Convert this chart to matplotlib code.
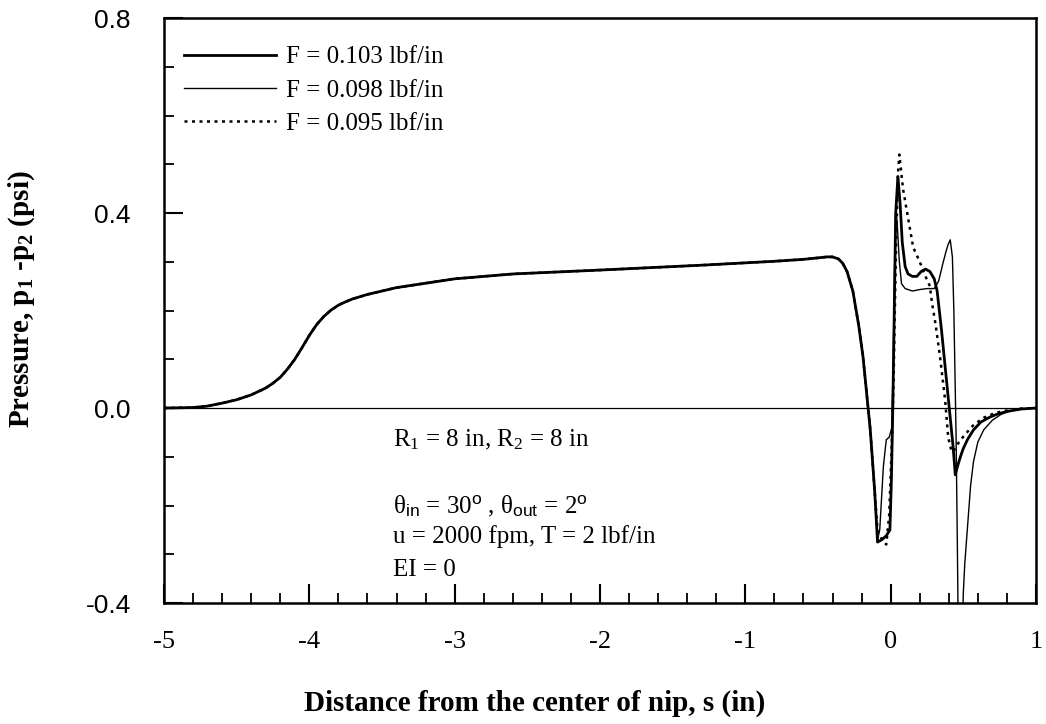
import numpy as np
import matplotlib
matplotlib.use("Agg")
import matplotlib.pyplot as plt
from matplotlib.ticker import MultipleLocator

plt.rcParams['font.family'] = 'Liberation Serif'
plt.rcParams['mathtext.fontset'] = 'custom'
plt.rcParams['mathtext.rm'] = 'Liberation Serif'
plt.rcParams['mathtext.it'] = 'Liberation Serif:italic'
plt.rcParams['mathtext.bf'] = 'Liberation Serif:bold'
plt.rcParams['mathtext.sf'] = 'Liberation Sans'

# shared part of the three curves (they overlap up to the nip)
s_common = [-5.0, -4.8, -4.7, -4.6, -4.5, -4.4, -4.3, -4.25, -4.2, -4.15, -4.1, -4.05,
            -4.0, -3.95, -3.9, -3.85, -3.8, -3.75, -3.7, -3.6, -3.5, -3.4, -3.2, -3.0,
            -2.6, -2.0, -1.3, -0.8, -0.6, -0.5, -0.44, -0.4, -0.36, -0.33, -0.3, -0.26,
            -0.22, -0.19, -0.155, -0.14, -0.11]
p_common = [0.0, 0.001, 0.004, 0.01, 0.017, 0.027, 0.041, 0.051, 0.063, 0.08, 0.1, 0.124,
            0.149, 0.171, 0.188, 0.201, 0.211, 0.218, 0.224, 0.233, 0.240, 0.247, 0.256, 0.265,
            0.275, 0.283, 0.293, 0.301, 0.305, 0.308, 0.310, 0.310, 0.306, 0.297, 0.28, 0.24,
            0.17, 0.105, 0.0, -0.045, -0.17]

# F = 0.103 lbf/in
s_103 = [-0.09, -0.06, -0.03, -0.005, 0.005, 0.015, 0.025, 0.035, 0.05, 0.065, 0.08, 0.1,
         0.12, 0.15, 0.18, 0.21, 0.24, 0.27, 0.3, 0.32, 0.35, 0.38, 0.41, 0.43, 0.445,
         0.46, 0.48, 0.5, 0.53, 0.57, 0.62, 0.68, 0.73, 0.8, 0.9, 1.0]
p_103 = [-0.275, -0.27, -0.262, -0.25, -0.15, 0.0, 0.2, 0.4, 0.475, 0.42, 0.34, 0.29,
         0.275, 0.27, 0.27, 0.28, 0.285, 0.28, 0.265, 0.24, 0.16, 0.07, -0.02, -0.08, -0.137,
         -0.12, -0.1, -0.083, -0.064, -0.045, -0.029, -0.019, -0.013, -0.007, -0.002, 0.0]

# F = 0.098 lbf/in
s_098 = [-0.09, -0.075, -0.05, -0.03, -0.01, 0.008, 0.018, 0.028, 0.035, 0.045, 0.06, 0.075,
         0.1, 0.15, 0.2, 0.25, 0.3, 0.33, 0.36, 0.38, 0.395, 0.41, 0.425, 0.435, 0.444,
         0.45, 0.458, 0.465, 0.48, 0.495, 0.5, 0.51, 0.53, 0.55, 0.57, 0.6, 0.64, 0.7,
         0.76, 0.82, 0.9, 1.0]
p_098 = [-0.27, -0.25, -0.12, -0.065, -0.06, -0.04, 0.1, 0.3, 0.41, 0.38, 0.3, 0.255,
         0.245, 0.24, 0.243, 0.245, 0.245, 0.26, 0.297, 0.32, 0.335, 0.345, 0.31, 0.2, 0.05,
         -0.05, -0.25, -0.45, -0.55, -0.45, -0.38, -0.32, -0.24, -0.16, -0.11, -0.07, -0.045, -0.025,
         -0.013, -0.006, -0.002, 0.0]

# F = 0.095 lbf/in
s_095 = [-0.09, -0.06, -0.03, -0.01, 0.005, 0.02, 0.035, 0.05, 0.06, 0.085, 0.114, 0.155,
         0.2, 0.24, 0.27, 0.285, 0.31, 0.34, 0.375, 0.396, 0.42, 0.44, 0.47, 0.51, 0.57,
         0.64, 0.72, 0.8, 0.9, 1.0]
p_095 = [-0.25, -0.27, -0.28, -0.22, -0.1, 0.05, 0.3, 0.48, 0.52, 0.45, 0.40, 0.33,
         0.30, 0.27, 0.25, 0.215, 0.17, 0.105, 0.016, -0.06, -0.09, -0.085, -0.07, -0.055, -0.035,
         -0.02, -0.01, -0.005, -0.001, 0.0]

labels = ['F = 0.103 lbf/in', 'F = 0.098 lbf/in', 'F = 0.095 lbf/in']

fig = plt.figure(figsize=(10.46, 7.24), dpi=100)
ax = fig.add_axes([0.1568, 0.1671, 0.8336, 0.808])

ax.axhline(0, color='black', lw=0.9)

ax.plot(s_common + s_103, p_common + p_103, color='black', lw=2.0, label=labels[0])
ax.plot(s_common + s_098, p_common + p_098, color='black', lw=1.0, label=labels[1])
ax.plot(s_common + s_095, p_common + p_095, color='black', lw=1.8,
        linestyle=(0, (1.2, 1.8)), label=labels[2])

ax.set_xlim(-5, 1)
ax.set_ylim(-0.4, 0.8)

ax.xaxis.set_minor_locator(MultipleLocator(0.2))
ax.yaxis.set_minor_locator(MultipleLocator(0.1))
ax.set_xticks([-5, -4, -3, -2, -1, 0, 1])
ax.set_xticklabels(['-5', '-4', '-3', '-2', '-1', '0', '1'])
ax.set_yticks([-0.4, 0.0, 0.4, 0.8])
ax.set_yticklabels(['-0.4', '0.0', '0.4', '0.8'], fontfamily='Liberation Sans')

ax.tick_params(axis='both', which='major', direction='in', length=14, width=1.5,
               top=False, right=False)
ax.tick_params(axis='both', which='minor', direction='in', length=7, width=1.3,
               top=False, right=False)
ax.tick_params(axis='x', which='major', pad=20, labelsize=19)
ax.tick_params(axis='y', which='major', pad=24, labelsize=19)

for sp in ax.spines.values():
    sp.set_linewidth(1.8)

ax.set_xlabel('Distance from the center of nip, s (in)', fontsize=21, fontweight='bold')
ax.set_ylabel(r'Pressure, p$_\mathbf{1}$ -p$_\mathbf{2}$ (psi)', fontsize=21, fontweight='bold')
ax.xaxis.set_label_coords(0.425, -0.148)
ax.yaxis.set_label_coords(-0.146, 0.52)

ax.legend(loc='upper left', bbox_to_anchor=(-0.006, 0.995), frameon=False, fontsize=18,
          handlelength=3.7, handletextpad=0.38, labelspacing=0.43, borderaxespad=0.6)

ax.text(0.263, 0.279, r'R$_1$ = 8 in, R$_2$ = 8 in', transform=ax.transAxes,
        fontsize=18, va='center')
ax.text(0.263, 0.165, r'θ$_{\mathsf{in}}$ = 30$^{\mathsf{o}}$ , θ$_{\mathsf{out}}$ = 2$^{\mathsf{o}}$',
        transform=ax.transAxes, fontsize=18, va='center')
ax.text(0.263, 0.113, 'u = 2000 fpm, T = 2 lbf/in', transform=ax.transAxes,
        fontsize=18, va='center')
ax.text(0.263, 0.056, 'EI = 0', transform=ax.transAxes, fontsize=18, va='center')

fig.savefig('out.png', dpi=100)
